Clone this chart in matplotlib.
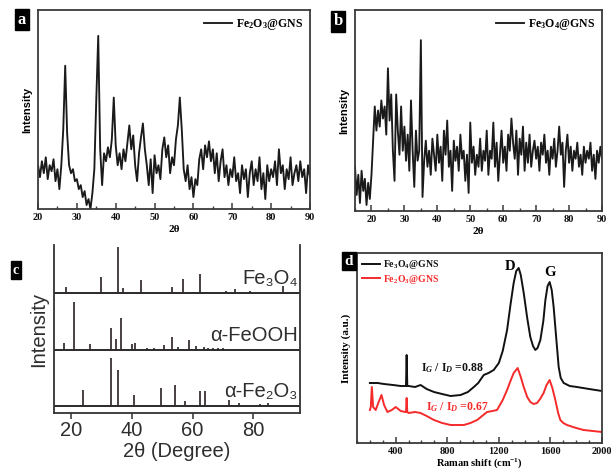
import numpy as np
import matplotlib
matplotlib.use('Agg')
import matplotlib.pyplot as plt
from matplotlib.ticker import MultipleLocator

plt.rcParams['mathtext.fontset'] = 'custom'
plt.rcParams['mathtext.rm'] = 'Liberation Serif:bold'
plt.rcParams['mathtext.it'] = 'Liberation Serif:bold:italic'
plt.rcParams['mathtext.bf'] = 'Liberation Serif:bold'

SERIF = ['Liberation Serif', 'DejaVu Serif']
SANS = ['Liberation Sans', 'DejaVu Sans']

# ---- panel a : Fe2O3@GNS XRD (2theta 20..90, step 0.5) ----
a_start, a_step = 20.0, 0.5
a_intensity = [
    22, 16, 24, 18, 26, 15, 22, 19, 25, 14, 20, 10, 22, 40, 72, 38, 22, 18, 20, 14,
    15, 10, 12, 6, 9, 2, 5, 0, 8, 20, 55, 87, 30, 12, 28, 24, 31, 26, 35, 56,
    32, 22, 28, 20, 30, 24, 33, 42, 30, 37, 22, 14, 28, 36, 43, 30, 22, 12, 25, 8,
    27, 18, 22, 15, 30, 36, 26, 32, 18, 26, 22, 35, 42, 56, 40, 20, 14, 22, 10, 16,
    6, 15, 12, 25, 30, 20, 32, 26, 34, 24, 30, 18, 28, 14, 24, 30, 16, 22, 12, 20,
    16, 26, 14, 18, 8, 22, 15, 20, 6, 18, 24, 12, 20, 14, 26, 10, 18, 5, 22, 14,
    20, 16, 24, 12, 30, 18, 22, 10, 20, 15, 26, 12, 18, 22, 14, 24, 16, 20, 8, 22,
    16]

# ---- panel b : Fe3O4@GNS XRD (2theta 15..90, step 0.5) ----
b_start, b_step = 15.0, 0.5
b_intensity = [
    22, 8, 18, 4, 20, 10, 16, 3, 14, 6, 18, 35, 52, 40, 50, 42, 55, 46, 52, 38,
    71, 45, 58, 30, 15, 58, 40, 28, 52, 30, 42, 25, 38, 20, 55, 30, 12, 40, 25, 30,
    85, 7, 25, 35, 22, 30, 18, 36, 28, 20, 38, 24, 32, 15, 40, 28, 45, 22, 30, 10,
    35, 25, 32, 20, 38, 26, 30, 15, 28, 9, 44, 24, 32, 18, 28, 22, 36, 20, 30, 25,
    40, 18, 30, 26, 44, 22, 34, 15, 28, 40, 24, 32, 20, 38, 30, 46, 34, 26, 40, 18,
    36, 28, 42, 20, 34, 24, 38, 22, 30, 35, 26, 32, 20, 34, 28, 38, 24, 30, 18, 32,
    26, 36, 22, 30, 42, 28, 34, 12, 30, 38, 24, 32, 20, 30, 26, 34, 22, 28, 18, 32,
    24, 30, 26, 34, 20, 28, 16, 30, 24, 32, 26]

# ---- panel c : reference stick patterns ----
fe3o4_pos = [18.3, 30.1, 35.4, 37.1, 43.1, 53.4, 57.0, 62.6, 71.0, 74.0, 79.0, 89.6]
fe3o4_h = [6, 16, 46, 5, 13, 6, 14, 19, 2, 4, 2, 7]
feooh_pos = [17.8, 21.2, 26.3, 33.2, 34.7, 36.6, 40.0, 41.2, 45.2, 47.3, 50.6, 53.2,
             55.3, 59.0, 61.3, 63.9, 65.1, 66.8, 68.5, 70.0]
feooh_h = [7, 48, 6, 22, 11, 32, 6, 7, 2, 2, 5, 13, 3, 10, 4, 3, 2, 2, 2, 2]
fe2o3_pos = [24.1, 33.2, 35.6, 40.9, 49.5, 54.1, 57.6, 62.4, 64.0, 71.9, 75.4, 82.0, 84.9]
fe2o3_h = [16, 48, 36, 11, 18, 21, 5, 15, 15, 6, 3, 2, 3]
c_names = ['Fe₃O₄', 'α-FeOOH', 'α-Fe₂O₃']

# ---- panel d : Raman ----
raman_black_x = [200, 260, 309, 380, 439, 470, 480, 485, 490, 500, 550, 593, 640, 697,
                 760, 826, 903, 960, 1006, 1040, 1083, 1120, 1160, 1200, 1230, 1264,
                 1290, 1315, 1335, 1354, 1370, 1393, 1420, 1444, 1465, 1483, 1500,
                 1522, 1545, 1561, 1578, 1594, 1610, 1625, 1645, 1664, 1680, 1703,
                 1750, 1806, 1900, 2000]
raman_black_y = [60, 60, 59, 58, 57, 57, 57, 88, 57, 57, 56, 58, 54, 51,
                 49, 47, 48, 51, 56, 60, 68, 70, 73, 80, 92, 113,
                 138, 160, 172, 175, 168, 150, 125, 106, 97, 93, 95,
                 103, 122, 143, 157, 161, 153, 136, 105, 76, 65, 60,
                 57, 56, 54, 52]
raman_red_x = [200, 207, 215, 225, 245, 265, 290, 310, 336, 370, 400, 439, 475, 480,
               485, 490, 500, 550, 593, 640, 697, 760, 826, 929, 980, 1032, 1070,
               1109, 1150, 1186, 1230, 1264, 1290, 1315, 1346, 1370, 1393, 1420, 1444,
               1470, 1496, 1520, 1547, 1570, 1594, 1615, 1638, 1660, 1677, 1700, 1728,
               1800, 1857, 2000]
raman_red_y = [33, 36, 56, 36, 33, 40, 48, 38, 31, 33, 36, 32, 31, 31,
               45, 31, 30, 31, 30, 27, 23, 20, 18, 18, 20, 23, 27,
               31, 32, 33, 43, 53, 62, 70, 75, 66, 56, 46, 41,
               39, 40, 44, 50, 58, 63, 55, 43, 30, 23, 20, 18,
               15, 13, 11]

LINE = '#1a1a1a'
SPINE = '#3a3a3a'

fig = plt.figure(figsize=(6.11, 4.73), dpi=100)


def px_axes(left, top, right, bottom):
    return fig.add_axes([left / 611, 1 - bottom / 473, (right - left) / 611, (bottom - top) / 473])


def bold_serif_ticks(ax):
    for lab in ax.get_xticklabels():
        lab.set_fontfamily(SERIF)
        lab.set_fontweight('bold')
        lab.set_fontsize(7.5)


def style_xrd(ax):
    for s in ax.spines.values():
        s.set_color(SPINE)
        s.set_linewidth(1.3)
    ax.set_yticks([])
    ax.xaxis.set_major_locator(MultipleLocator(10))
    ax.xaxis.set_minor_locator(MultipleLocator(5))
    ax.tick_params(axis='x', which='both', direction='in', top=False, colors=SPINE,
                   labelcolor='#111', pad=3)
    ax.tick_params(axis='x', which='major', length=4, width=1.1)
    ax.tick_params(axis='x', which='minor', length=2.5, width=1)
    bold_serif_ticks(ax)


def panel_label(x, y, s, size=12):
    fig.text(x / 611, 1 - y / 473, s, color='white', fontsize=size, fontweight='bold',
             family=SERIF, ha='center', va='center',
             bbox=dict(boxstyle='square,pad=0.15', fc='black', ec='black'))


# panel a
ax = px_axes(38, 10, 310, 209)
xa = a_start + a_step * np.arange(len(a_intensity))
ax.plot(xa, a_intensity, color=LINE, lw=1.35, label='Fe$_2$O$_3$@GNS')
ax.set_xlim(20, 90)
ax.set_ylim(0, 100)
style_xrd(ax)
ax.set_xlabel('2θ', fontsize=8, fontweight='bold', family=SERIF, labelpad=2)
ax.set_ylabel('Intensity', fontsize=8, fontweight='bold', family=SANS, labelpad=4)
ax.legend(loc='upper right', frameon=False, handlelength=2.4,
          handletextpad=0.3, borderaxespad=0.2, prop=dict(family=SERIF, weight='bold', size=8.5))
panel_label(22, 20, 'a')

# panel b
ax = px_axes(355, 10, 602, 211)
xb = b_start + b_step * np.arange(len(b_intensity))
ax.plot(xb, b_intensity, color=LINE, lw=1.35, label='Fe$_3$O$_4$@GNS')
ax.set_xlim(15, 90)
ax.set_ylim(0, 100)
style_xrd(ax)
ax.set_xticks(range(20, 91, 10))
bold_serif_ticks(ax)
ax.set_xlabel('2θ', fontsize=8, fontweight='bold', family=SERIF, labelpad=2)
ax.set_ylabel('Intensity', fontsize=8, fontweight='bold', family=SANS, labelpad=4)
ax.legend(loc='upper right', frameon=False, handlelength=2.4,
          handletextpad=0.3, borderaxespad=0.2, prop=dict(family=SERIF, weight='bold', size=8.5))
panel_label(338, 21, 'b')

# panel c
ax = px_axes(54, 245, 300, 413)
bases = [120, 63, 7]
groups = [(fe3o4_pos, fe3o4_h), (feooh_pos, feooh_h), (fe2o3_pos, fe2o3_h)]
for base, (pos, h), name in zip(bases, groups, c_names):
    ax.vlines(pos, base, base + np.array(h), color='#3a3232', lw=1.3)
    ax.axhline(base, color='#2a2a2a', lw=1.4)
    ax.text(94.5, base + 5, name, ha='right', va='bottom', fontsize=14.5,
            family=SANS, color='#2e2e2e')
ax.set_xlim(14.5, 95.3)
ax.set_ylim(0, 168)
ax.spines['top'].set_visible(False)
for s in ['left', 'right', 'bottom']:
    ax.spines[s].set_color('#333')
    ax.spines[s].set_linewidth(1.3)
ax.set_yticks([])
ax.set_xticks([20, 40, 60, 80])
ax.tick_params(axis='x', direction='out', length=4, width=1.1, labelsize=14.5,
               colors='#2e2e2e', pad=2)
for lab in ax.get_xticklabels():
    lab.set_fontfamily(SANS)
ax.set_xlabel('2θ (Degree)', fontsize=14.5, family=SANS, color='#2e2e2e', labelpad=1)
ax.set_ylabel('Intensity', fontsize=14.5, family=SANS, color='#2e2e2e', labelpad=4)
panel_label(16, 270, 'c', size=10)

# panel d
ax = px_axes(357, 253, 602, 443)
ax.plot(raman_black_x, raman_black_y, color='#111', lw=1.4, label='Fe$_3$O$_4$@GNS')
ax.plot(raman_red_x, raman_red_y, color='#f52a2a', lw=1.4, label='Fe$_2$O$_3$@GNS')
ax.set_xlim(100, 2000)
ax.set_ylim(0, 190)
for s in ax.spines.values():
    s.set_color(SPINE)
    s.set_linewidth(1.3)
ax.set_yticks([])
ax.xaxis.set_major_locator(MultipleLocator(400))
ax.xaxis.set_minor_locator(MultipleLocator(100))
ax.tick_params(axis='x', which='both', direction='in', colors=SPINE, labelcolor='#111', pad=3)
ax.tick_params(axis='x', which='major', length=4, width=1.1)
ax.tick_params(axis='x', which='minor', length=2.5, width=1)
bold_serif_ticks(ax)
ax.set_xlabel('Raman shift (cm$^{-1}$)', fontsize=7.5, fontweight='bold', family=SERIF, labelpad=0)
ax.set_ylabel('Intensity (a.u.)', fontsize=8, fontweight='bold', family=SERIF, labelpad=4)
ax.text(1290, 176, 'D', fontsize=10.5, fontweight='bold', family=SERIF, ha='center', va='center')
ax.text(1600, 170, 'G', fontsize=10.5, fontweight='bold', family=SERIF, ha='center', va='center')
ax.text(593, 75, 'I$_G$ / I$_D$ =0.88', fontsize=8.5, fontweight='bold', family=SERIF,
        ha='left', va='center', color='#111')
ax.text(632, 36, 'I$_G$ / I$_D$ =0.67', fontsize=8.5, fontweight='bold', family=SERIF,
        ha='left', va='center', color='#f52a2a')
ax.legend(loc='upper left', frameon=False, handlelength=1.8, handletextpad=0.3,
          labelspacing=0.15, borderaxespad=0.15, labelcolor='linecolor',
          prop=dict(family=SERIF, weight='bold', size=7))
panel_label(349, 261, 'd', size=11)

fig.savefig('out.png', dpi=100)
